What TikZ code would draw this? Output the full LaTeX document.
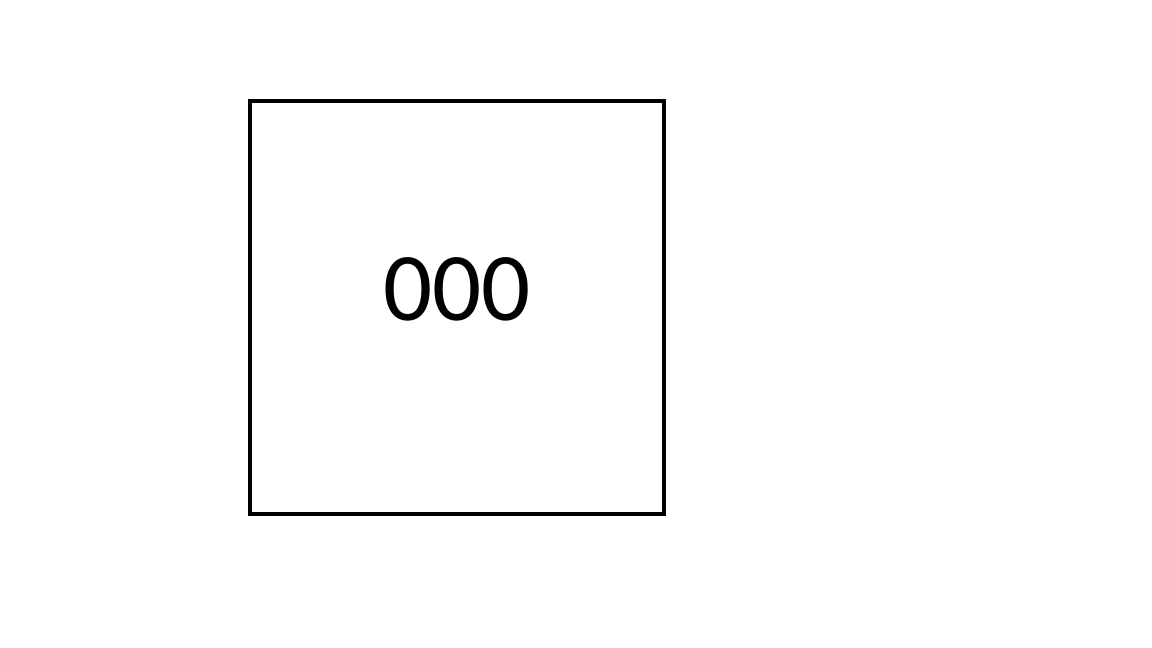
\documentclass[tikz,border=0pt]{standalone}
\usepackage{fontspec}
\setmainfont{Carlito}
\begin{document}
\begin{tikzpicture}[x=1pt,y=-1pt,
  boxstyle/.style={draw=black,line width=4pt,minimum width=414pt,minimum height=413pt,inner sep=0pt,anchor=north west}]
\useasboundingbox (0,0) rectangle (1152,648);
\coordinate (nw) at (250,101);
\coordinate (se) at (664,514);
\draw[line width=4pt] (nw) rectangle (se);
\node[anchor=base,inner sep=0pt,font=\fontsize{97}{110}\selectfont] (label) at (457,320) {000};
\end{tikzpicture}
\end{document}
